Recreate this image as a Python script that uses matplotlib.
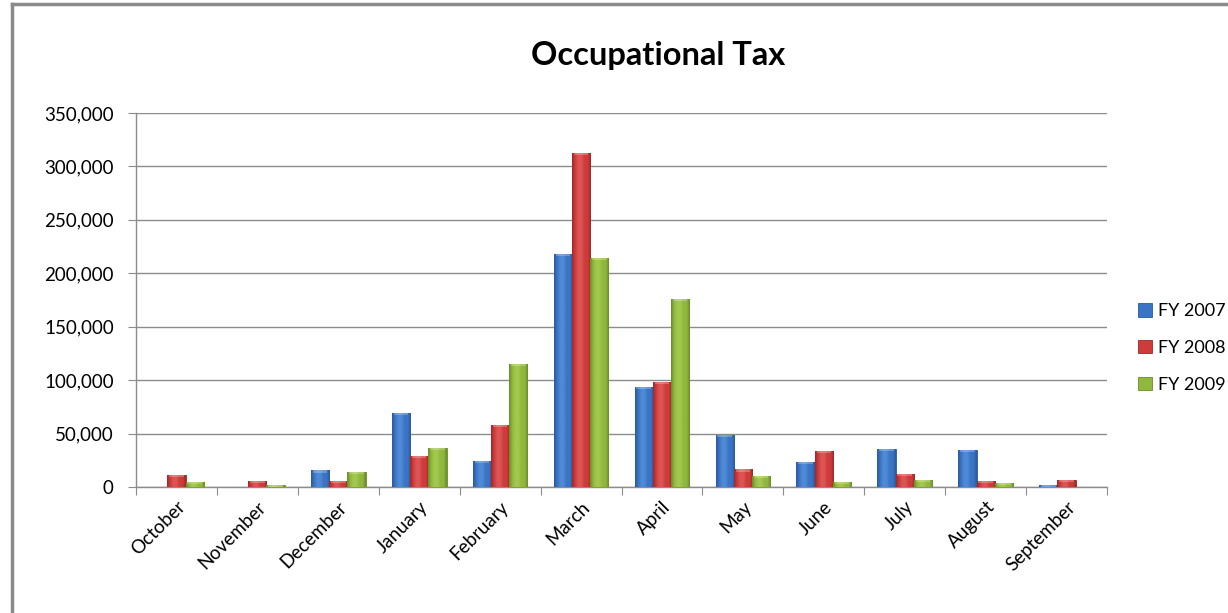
import matplotlib
matplotlib.use("Agg")
import matplotlib.pyplot as plt
import numpy as np
from matplotlib.colors import LinearSegmentedColormap
from matplotlib.lines import Line2D
from matplotlib.patches import Patch
from matplotlib.ticker import FuncFormatter, MultipleLocator

plt.rcParams["font.family"] = ["Lato", "DejaVu Sans"]

months = ["October", "November", "December", "January", "February", "March",
          "April", "May", "June", "July", "August", "September"]
series_names = ["FY 2007", "FY 2008", "FY 2009"]
fy2007 = [0, 0, 15500, 69000, 24000, 218000, 93500, 48500, 23500, 35500, 34500, 2000]
fy2008 = [11000, 6000, 6000, 29000, 58000, 313000, 98500, 16500, 34000, 12000, 6000, 7000]
fy2009 = [4500, 2000, 14000, 36500, 115000, 214500, 176000, 10500, 5000, 7000, 3500, 0]

# base, light, dark shades used for the bevelled bar fill
palette = {
    "FY 2007": ("#3a74c4", "#4f8ad6", "#2a5a9e"),
    "FY 2008": ("#cf3b3b", "#dc5454", "#9e2828"),
    "FY 2009": ("#8fb83c", "#a2c84c", "#6b8c2a"),
}

fig = plt.figure(figsize=(12.28, 6.13), dpi=100)
ax = fig.add_axes([136 / 1228, 1 - 487 / 613, (1107 - 136) / 1228, (487 - 113) / 613])

x = np.arange(len(months))
width = 0.225
grad = np.linspace(0, 1, 64).reshape(1, -1)

for i, (name, vals) in enumerate(zip(series_names, [fy2007, fy2008, fy2009])):
    base, light, dark = palette[name]
    cmap = LinearSegmentedColormap.from_list(
        name, [dark, base, light, light, base, base, dark])
    bars = ax.bar(x + (i - 1) * width, vals, width, color=base,
                  edgecolor=dark, linewidth=0.6, zorder=3)
    for b in bars:
        h = b.get_height()
        if h <= 0:
            continue
        x0 = b.get_x()
        w = b.get_width()
        im = ax.imshow(grad, cmap=cmap, aspect="auto", extent=(x0, x0 + w, 0, h),
                       zorder=3.5, interpolation="bilinear")
        im.set_clip_path(b)
        # lighter cap along the top of the bar
        cap = min(h, 2000)
        ax.fill_between([x0 + w * 0.1, x0 + w * 0.9], h - cap, h,
                        color="white", alpha=0.25, lw=0, zorder=3.6)

ax.set_xlim(-0.5, len(months) - 0.5)
ax.set_ylim(0, 350000)
ax.yaxis.set_major_locator(MultipleLocator(50000))
ax.yaxis.set_major_formatter(FuncFormatter(lambda v, _: f"{int(v):,}"))
ax.grid(axis="y", color="#8c8c8c", linewidth=1.0, zorder=0)
ax.set_axisbelow(True)

ax.set_xticks(np.arange(len(months) + 1) - 0.5)
ax.set_xticklabels([])
ax.set_xticks(x, minor=True)
ax.set_xticklabels(months, minor=True, rotation=45, ha="right",
                   rotation_mode="anchor", fontsize=13.5)
ax.tick_params(axis="x", which="minor", length=0, pad=8)
ax.tick_params(axis="x", which="major", length=6, color="#8c8c8c", direction="out")
ax.tick_params(axis="y", length=6, color="#8c8c8c", labelsize=13.5, pad=10)

for side in ("top", "right"):
    ax.spines[side].set_visible(False)
for side in ("left", "bottom"):
    ax.spines[side].set_color("#8c8c8c")
    ax.spines[side].set_linewidth(1.0)

fig.text(658 / 1228, 1 - 55 / 613, "Occupational Tax", ha="center", va="center",
         fontsize=23.5, fontweight="bold")

handles = [Patch(facecolor=palette[n][0], edgecolor=palette[n][2], linewidth=0.6)
           for n in series_names]
fig.legend(handles, series_names, loc="center left",
           bbox_to_anchor=(1138 / 1228, 1 - 348 / 613), frameon=False,
           fontsize=13, handlelength=0.75, handleheight=0.75, handletextpad=0.35,
           labelspacing=1.15, borderpad=0, borderaxespad=0)

# outer chart border
fig.add_artist(Line2D([12 / 1228, 1], [1 - 4 / 613, 1 - 4 / 613],
                      transform=fig.transFigure, color="#8a8a8a", linewidth=2.5))
fig.add_artist(Line2D([12 / 1228, 12 / 1228], [0, 1 - 4 / 613],
                      transform=fig.transFigure, color="#8a8a8a", linewidth=2.5))

fig.savefig("out.png", dpi=100)
